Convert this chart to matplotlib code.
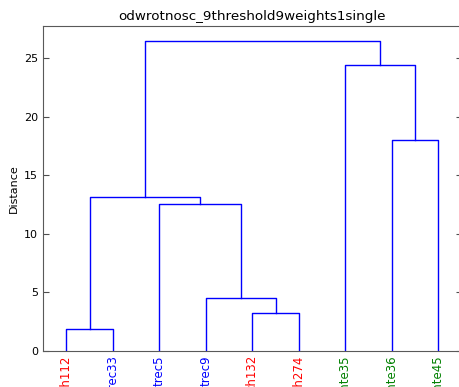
import numpy as np
import matplotlib
matplotlib.use('Agg')
import matplotlib.pyplot as plt

# leaf labels in dendrogram order, with their group colours
leaves = ['ch112', 'trec33', 'trec5', 'trec9', 'ch132', 'ch274', 'ente35', 'ente36', 'ente45']
leaf_colors = ['red', 'blue', 'blue', 'blue', 'red', 'red', 'green', 'green', 'green']

# linkage: (left node, right node, merge distance); new nodes numbered from len(leaves)
merge_left = [0, 4, 3, 2, 9, 7, 6, 13]
merge_right = [1, 5, 10, 11, 12, 8, 14, 15]
merge_height = [1.85, 3.25, 4.5, 12.55, 13.15, 18.0, 24.4, 26.45]

title = 'odwrotnosc_9threshold9weights1single'


def link_coords(n_leaves, left, right, height):
    xs = [5.0 + 10.0 * i for i in range(n_leaves)]
    ys = [0.0] * n_leaves
    segs = []
    for a, b, h in zip(left, right, height):
        segs.append(([xs[a], xs[a], xs[b], xs[b]], [ys[a], h, h, ys[b]]))
        xs.append((xs[a] + xs[b]) / 2.0)
        ys.append(h)
    return segs


fig = plt.figure(figsize=(4.6, 3.87), dpi=100)
ax = fig.add_axes([0.0935, 0.093, 0.91, 0.841])

for xl, yl in link_coords(len(leaves), merge_left, merge_right, merge_height):
    ax.plot(xl, yl, color='b', lw=1)

n = len(leaves)
ax.set_xlim(0, 10 * n)
ax.set_ylim(0, max(merge_height) * 1.05)

ax.set_xticks([5 + 10 * i for i in range(n)])
ax.set_xticklabels(leaves, rotation=90, fontsize=8.5, va='top')
for lbl, c in zip(ax.get_xticklabels(), leaf_colors):
    lbl.set_color(c)
ax.tick_params(axis='x', length=0, pad=3)

ax.set_yticks(np.arange(0, 26, 5))
ax.tick_params(axis='y', direction='in', length=4, right=True, labelsize=8, color='0.3')
ax.set_ylabel('Distance', fontsize=8)
ax.set_title(title, fontsize=9.7, pad=4)

for sp in ax.spines.values():
    sp.set_color('0.35')

fig.savefig('out.png', dpi=100)
